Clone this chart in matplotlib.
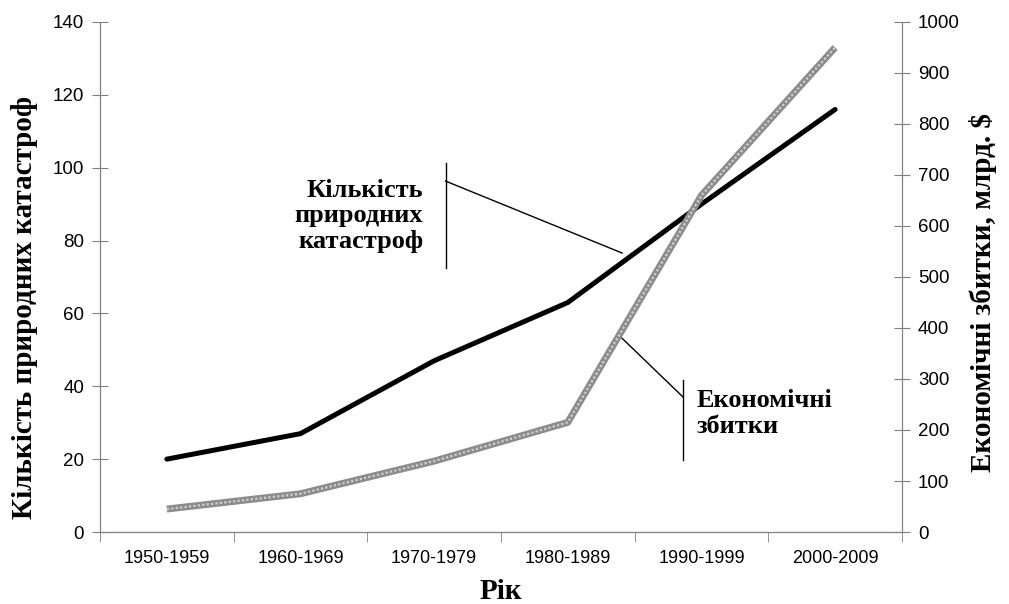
import numpy as np
import matplotlib; matplotlib.use("Agg"); import matplotlib.pyplot as plt

# decades, number of natural disasters (left axis), economic losses bn $ (right axis)
periods = ['1950-1959', '1960-1969', '1970-1979', '1980-1989', '1990-1999', '2000-2009']
disasters = [20, 27, 47, 63, 90, 116]
losses = [45, 75, 139, 215, 660, 950]

SERIF = ['Liberation Serif', 'DejaVu Serif']
SANS = ['Liberation Sans', 'DejaVu Sans']
AX_COL = '#808080'

fig = plt.figure(figsize=(10.09, 6.04), dpi=100)
ax = fig.add_axes([0.0991, 0.1192, 0.7948, 0.8444])
ax2 = ax.twinx()
x = np.arange(len(periods))

ax.plot(x, disasters, color='black', lw=3.6, solid_capstyle='round', zorder=3)
# textured grey line: dark grey body with lighter dotted core
ax2.plot(x, losses, color='#8c8c8c', lw=5, solid_capstyle='butt', zorder=2)
ax2.plot(x, losses, color='#d0d0d0', lw=1.6, dashes=(1, 1), zorder=2)

ax.set_xlim(-0.5, len(periods) - 0.5)
ax.set_ylim(0, 140); ax.set_yticks(range(0, 141, 20))
ax2.set_ylim(0, 1000); ax2.set_yticks(range(0, 1001, 100))
ax.set_xticks(x); ax.set_xticklabels(periods, family=SANS, fontsize=13)
ax.set_xticks(np.arange(-0.5, len(periods)), minor=True)
ax.tick_params(axis='x', which='major', length=0, pad=13)
ax.tick_params(axis='x', which='minor', direction='out', length=7, color=AX_COL)
ax.tick_params(axis='y', direction='inout', length=11, color=AX_COL, labelsize=13.5, pad=6)
ax2.tick_params(axis='y', direction='inout', length=11, color=AX_COL, labelsize=13.5, pad=6)
for a in (ax, ax2):
    for lab in a.get_yticklabels():
        lab.set_family(SANS)
    a.spines['top'].set_visible(False)
    for s in ('left', 'right', 'bottom'):
        a.spines[s].set_color(AX_COL)
ax.spines['bottom'].set_color('#404040')

ax.set_xlabel('Рік', family=SERIF, fontsize=21, fontweight='bold', labelpad=8)
ax.set_ylabel('Кількість природних катастроф', family=SERIF, fontsize=21, fontweight='bold')
ax2.set_ylabel('Економічні збитки, млрд. $', family=SERIF, fontsize=21, fontweight='bold')
ax.yaxis.set_label_coords(-0.077, 0.441)
ax2.yaxis.set_label_coords(1.084, 0.47)

# callouts
tr = ax.transAxes
ax.text(0.403, 0.62, 'Кількість\nприродних\nкатастроф', transform=tr, ha='right', va='center',
        family=SERIF, fontsize=19, fontweight='bold', linespacing=1.15)
ax.plot([0.431, 0.431], [0.5176, 0.7235], transform=tr, color='black', lw=1)
ax.plot([0.431, 0.651], [0.688, 0.547], transform=tr, color='black', lw=1)

ax.text(0.744, 0.233, 'Економічні\nзбитки', transform=tr, ha='left', va='center',
        family=SERIF, fontsize=19, fontweight='bold', linespacing=1.15)
ax.plot([0.727, 0.727], [0.141, 0.298], transform=tr, color='black', lw=1)
ax.plot([0.727, 0.6496], [0.2647, 0.382], transform=tr, color='black', lw=1)

fig.savefig('out.png', dpi=100)
